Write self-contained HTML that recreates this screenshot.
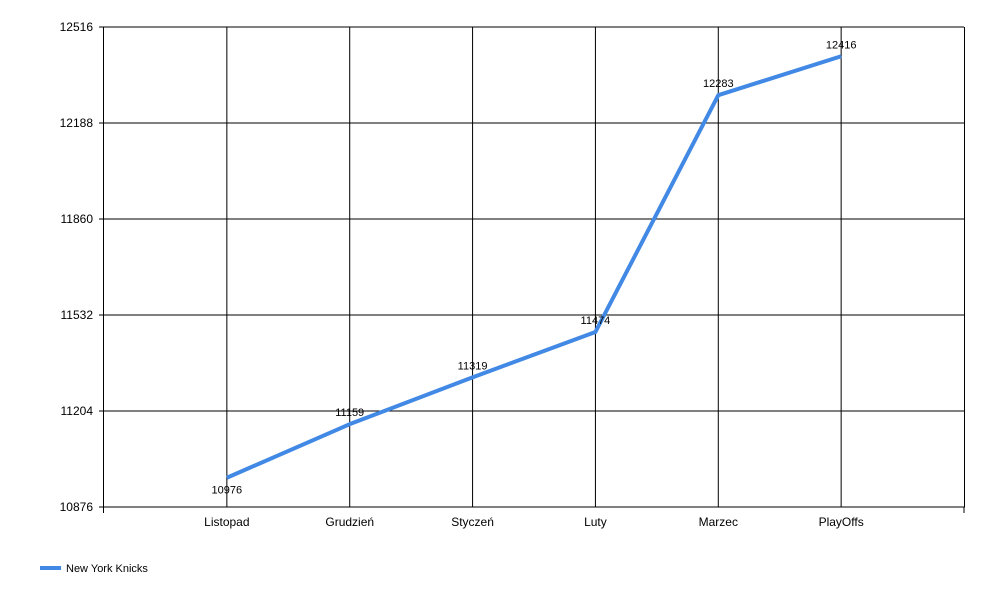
<!DOCTYPE html>
<html><head><meta charset="utf-8"><style>
body{margin:0;background:#fff;width:1000px;height:600px;overflow:hidden}
text{font-family:"Liberation Sans",sans-serif;fill:#000}
</style></head><body>
<svg id="chart" width="1000" height="600"></svg>
<script>
const categories=["Listopad","Grudzień","Styczeń","Luty","Marzec","PlayOffs"];
const seriesValues=[10976,11159,11319,11474,12283,12416];
const yTicks=[10876,11204,11532,11860,12188,12516];
const L=104,R=964,T=27,B=507,yMin=10876,yMax=12516;
const NS="http://www.w3.org/2000/svg";
const svg=document.getElementById('chart');
function X(i){return L+(i+1)*(R-L)/(categories.length+1);}
function Y(v){return B-(v-yMin)/(yMax-yMin)*(B-T);}
function mk(tag,attrs,parent){const e=document.createElementNS(NS,tag);for(const k in attrs)e.setAttribute(k,attrs[k]);(parent||svg).appendChild(e);return e;}
const grid=mk('g',{});


yTicks.forEach(v=>{
  const l=mk('line',{x1:L-5,x2:R,y1:Y(v),y2:Y(v),stroke:'#000','stroke-width':1},grid);
  
  
  const t=mk('text',{x:L-11,y:Y(v)+4,'text-anchor':'end','font-size':12},grid);
  t.textContent=v;
  
  
});
categories.forEach((c,i)=>{
  const l=mk('line',{x1:X(i),x2:X(i),y1:T,y2:B,stroke:'#000','stroke-width':1},grid);
  
  
  const t=mk('text',{x:X(i),y:B+19,'text-anchor':'middle','font-size':12},grid);
  t.textContent=c;
  
  
});
const ax=mk('path',{d:`M${L-0.5} ${T} V${B+6} M${L} ${B} H${R+0.5} V${T} M${R} ${B} V${B+6}`,stroke:'#000',fill:'none','stroke-width':1});


const pts=seriesValues.map((v,i)=>X(i)+','+Y(v)).join(' ');
const line=mk('polyline',{points:pts,fill:'none',stroke:'#4189e5','stroke-width':4,'stroke-linejoin':'round'});


seriesValues.forEach((v,i)=>{
  const below=i===0;
  const t=mk('text',{x:X(i),y:below?Y(v)+16:Y(v)-8,'text-anchor':'middle','font-size':11});
  t.textContent=v;
  
  
});
const lg=mk('g',{});


mk('line',{x1:40,x2:61,y1:568,y2:568,stroke:'#4189e5','stroke-width':4},lg);
const lt=mk('text',{x:66,y:572,'font-size':11},lg);
lt.textContent='New York Knicks';
</script>
</body></html>
